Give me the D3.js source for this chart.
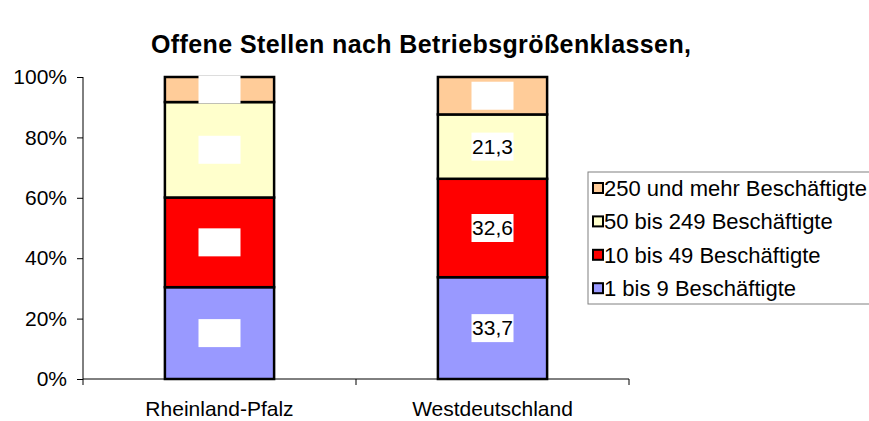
<!DOCTYPE html>
<html>
<head>
<meta charset="utf-8">
<script src="https://cdn.jsdelivr.net/npm/d3@7"></script>
<style>
  body { margin: 0; background: #fff; }
  svg { font-family: "Liberation Sans", Arial, sans-serif; }
</style>
</head>
<body>
<div id="chart"></div>
<script>
var categories = ["Rheinland-Pfalz", "Westdeutschland"];
var seriesNames = ["1 bis 9 Beschäftigte", "10 bis 49 Beschäftigte", "50 bis 249 Beschäftigte", "250 und mehr Beschäftigte"];
var seriesColors = ["#9999ff", "#ff0000", "#ffffcc", "#ffcc99"];
var rheinlandPfalz = [30.4, 29.7, 31.6, 8.3];
var westdeutschland = [33.7, 32.6, 21.3, 12.4];
// data labels: only some had visible text, others are empty white boxes
var labelsRP = ["", "", "", ""];
var labelsWD = ["33,7", "32,6", "21,3", ""];
var yTicks = [0, 20, 40, 60, 80, 100];

var width = 869, height = 421;
var margin = {top: 77, right: 240, bottom: 42, left: 83};

var svg = d3.select("#chart").append("svg")
    .attr("width", width)
    .attr("height", height);

svg.append("text")
    .attr("x", 421)
    .attr("y", 53)
    .attr("text-anchor", "middle")
    .attr("font-size", 25)
    .attr("font-weight", "bold")
    .attr("textLength", 540)
    .text("Offene Stellen nach Betriebsgrößenklassen,");

var rows = categories.map(function(c, i) {
    var vals = i === 0 ? rheinlandPfalz : westdeutschland;
    var labs = i === 0 ? labelsRP : labelsWD;
    var total = d3.sum(vals);
    var r = {cat: c, labels: labs};
    seriesNames.forEach(function(s, j) { r[s] = vals[j] / total * 100; });
    return r;
});

var x = d3.scaleBand()
    .domain(categories)
    .range([margin.left, width - margin.right + 0])
    .paddingInner(0.6)
    .paddingOuter(0.3);

var y = d3.scaleLinear()
    .domain([0, 100])
    .range([height - margin.bottom, margin.top]);

var stacked = d3.stack().keys(seriesNames)(rows);

// axes
var yAxis = svg.append("g")
    .attr("transform", "translate(" + margin.left + ",0)")
    .call(d3.axisLeft(y).tickValues(yTicks).tickSize(6).tickPadding(10)
        .tickFormat(function(d) { return d + "%"; }));
yAxis.selectAll("text").attr("font-size", 21).attr("fill", "#000").attr("font-family", null);
yAxis.selectAll("line, path").attr("stroke", "#000");
yAxis.select(".domain").attr("d", "M0," + y(0) + "V" + y(100));

var x0 = x.range()[0], x1 = x.range()[1];
var step = x.step();
var xAxis = svg.append("g");
xAxis.append("line")
    .attr("x1", x0).attr("x2", x1)
    .attr("y1", y(0)).attr("y2", y(0))
    .attr("stroke", "#000");
xAxis.selectAll(".xtick")
    .data(d3.range(categories.length + 1))
    .enter().append("line")
    .attr("x1", function(i) { return x0 + i * step; })
    .attr("x2", function(i) { return x0 + i * step; })
    .attr("y1", y(0)).attr("y2", y(0) + 6)
    .attr("stroke", "#000");
xAxis.selectAll(".xlab")
    .data(categories)
    .enter().append("text")
    .attr("x", function(d) { return x(d) + x.bandwidth() / 2; })
    .attr("y", y(0) + 37)
    .attr("text-anchor", "middle")
    .attr("font-size", 21)
    .text(function(d) { return d; });

// bars
var layer = svg.selectAll(".layer")
    .data(stacked)
    .enter().append("g")
    .attr("fill", function(d, i) { return seriesColors[i]; });

layer.selectAll("rect")
    .data(function(d) { return d; })
    .enter().append("rect")
    .attr("x", function(d) { return x(d.data.cat); })
    .attr("y", function(d) { return y(d[1]); })
    .attr("width", x.bandwidth())
    .attr("height", function(d) { return y(d[0]) - y(d[1]); })
    .attr("stroke", "#000")
    .attr("stroke-width", 2.5);

// data labels in white boxes
stacked.forEach(function(s, j) {
    s.forEach(function(d) {
        var cx = x(d.data.cat) + x.bandwidth() / 2;
        var cy = (y(d[0]) + y(d[1])) / 2;
        svg.append("rect")
            .attr("x", cx - 21).attr("y", cy - 14)
            .attr("width", 42).attr("height", 28)
            .attr("fill", "#fff");
        svg.append("text")
            .attr("x", cx).attr("y", cy + 7)
            .attr("text-anchor", "middle")
            .attr("font-size", 21)
            .text(d.data.labels[j]);
    });
});

// legend
var lg = svg.append("g");
lg.append("rect")
    .attr("x", 588).attr("y", 172)
    .attr("width", 300).attr("height", 132)
    .attr("fill", "#fff")
    .attr("stroke", "#808080");
var order = seriesNames.slice().reverse();
var item = lg.selectAll(".item")
    .data(order)
    .enter().append("g")
    .attr("transform", function(d, i) { return "translate(593," + (188 + i * 33.4) + ")"; });
item.append("rect")
    .attr("x", 0).attr("y", -5)
    .attr("width", 10).attr("height", 10)
    .attr("fill", function(d) { return seriesColors[seriesNames.indexOf(d)]; })
    .attr("stroke", "#000")
    .attr("stroke-width", 2);
item.append("text")
    .attr("x", 11).attr("y", 8)
    .attr("font-size", 22)
    .text(function(d) { return d; });
</script>
</body>
</html>
